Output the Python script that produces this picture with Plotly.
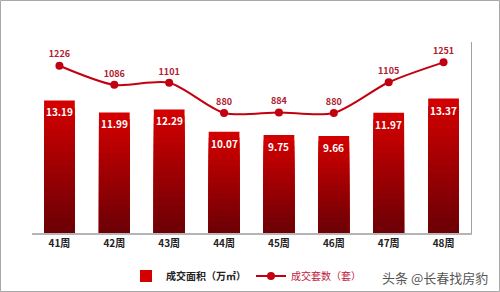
import plotly.graph_objects as go

weeks = ["41周", "42周", "43周", "44周", "45周", "46周", "47周", "48周"]
area = [13.19, 11.99, 12.29, 10.07, 9.75, 9.66, 11.97, 13.37]
units = [1226, 1086, 1101, 880, 884, 880, 1105, 1251]

W, H = 500, 292
ML, MR, MT, MB = 32, 29, 42, 59
PW, PH = W - ML - MR, H - MT - MB

def px_x(p):
    return (p - ML) / PW

def px_y(p):
    return (H - MB - p) / PH

fig = go.Figure()

# gradient bars: bright top to dark bottom, via overlaid bars
steps = 18
top = (210, 0, 0)
bot = (110, 0, 6)
for i in range(steps):
    k = 1 - i / steps
    t = i / (steps - 1)
    c = tuple(int(top[j] + (bot[j] - top[j]) * t) for j in range(3))
    fig.add_trace(go.Bar(
        x=weeks, y=[v * k for v in area], width=0.56,
        marker=dict(color="rgb(%d,%d,%d)" % c, line=dict(width=0)),
        name="<b>成交面积（万㎡）</b>", showlegend=(i == 0),
        legendrank=1, hoverinfo="skip",
    ))

fig.add_trace(go.Scatter(
    x=weeks, y=units, yaxis="y2", mode="lines+markers+text",
    line=dict(color="#c20010", width=2, shape="spline", smoothing=0.8),
    marker=dict(color="#c20010", size=8),
    text=[str(v) for v in units], textposition="top center",
    textfont=dict(color="#b02030", size=9, family="Noto Sans CJK SC", weight="bold"),
    name="<span style='color:#c0203a'>成交套数（套）</span>",
    legendrank=2,
))

annotations = [dict(x=w, y=v, xref="x", yref="y", text="%.2f" % v, showarrow=False,
                    yanchor="top", yshift=-2,
                    font=dict(color="white", size=10, family="Noto Sans CJK SC", weight="bold"))
               for w, v in zip(weeks, area)]
annotations.append(dict(text="头条 @长春找房豹", x=px_x(490), y=px_y(277), xref="paper", yref="paper",
                        xanchor="right", yanchor="middle", showarrow=False,
                        font=dict(size=13, color="#555", family="Noto Sans CJK SC")))

fig.update_layout(
    width=W, height=H, barmode="overlay",
    margin=dict(l=ML, r=MR, t=MT, b=MB, autoexpand=False),
    paper_bgcolor="white", plot_bgcolor="white",
    font=dict(family="Noto Sans CJK SC", size=10, color="#222"),
    xaxis=dict(type="category", range=[-0.5, 7.5], showline=True, linecolor="#b5b5b5",
               linewidth=2, ticks="", showgrid=False,
               tickfont=dict(size=10, color="#222", weight="bold")),
    yaxis=dict(range=[0, 19], visible=False, showgrid=False),
    yaxis2=dict(range=[0, 1400], overlaying="y", side="right", showline=True,
                linecolor="#a0a0a0", linewidth=1, showticklabels=False, ticks="",
                showgrid=False, zeroline=False),
    legend=dict(orientation="h", x=px_x(246), xanchor="center", y=px_y(276), yanchor="middle",
                font=dict(size=10, color="#222"), itemwidth=30, bgcolor="rgba(0,0,0,0)"),
    showlegend=True,
    annotations=annotations,
    shapes=[dict(type="rect", xref="paper", yref="paper",
                 x0=px_x(0.5), x1=px_x(499.5), y0=px_y(291.5), y1=px_y(0.5),
                 line=dict(color="#a8a8a8", width=1), layer="above")],
)

fig.write_html("out.html")
